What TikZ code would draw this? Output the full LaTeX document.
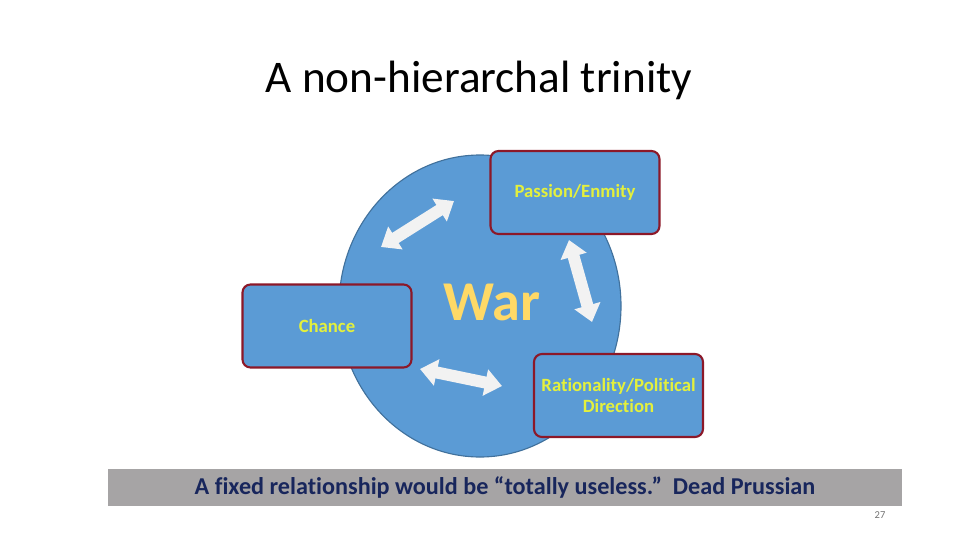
\documentclass[tikz,border=0pt]{standalone}
\usepackage{fontspec}
\setmainfont{Carlito}[Ligatures={NoCommon}]
\usetikzlibrary{arrows.meta}
\definecolor{trblue}{RGB}{91,155,213}
\definecolor{trrim}{RGB}{65,113,156}
\definecolor{trred}{RGB}{140,24,40}
\definecolor{tryel}{RGB}{228,240,60}
\definecolor{trgold}{RGB}{255,217,102}
\definecolor{trbar}{RGB}{166,164,165}
\definecolor{trnavy}{RGB}{24,38,92}
\definecolor{trarrow}{RGB}{242,242,242}

\begin{document}
\begin{tikzpicture}[
    x=0.025cm, y=-0.025cm,
    box/.style={rectangle, rounded corners=8*0.025cm, draw=trred, line width=1.5pt, fill=trblue,
      minimum width=169*0.025cm, minimum height=83*0.025cm, inner sep=0pt, align=center,
      text=tryel, font=\bfseries\fontsize{13.3}{14.5}\selectfont},
    link/.style={draw=trarrow, line width=12*0.025cm,
      {Triangle[width=26*0.025cm,length=17*0.025cm]}-{Triangle[width=26*0.025cm,length=17*0.025cm]}},
    tag/.style={font=\fontsize{32.2}{38}\selectfont},
  ]
  \useasboundingbox (0,0) rectangle (960,540);

  %% ================= title =================
  \node[tag] (title) at (479,80) {A non-hierarchal trinity};

  %% ================= the circle of war =================
  \draw[trrim, fill=trblue, line width=0.8pt] (480,306) ellipse[x radius=141, y radius=151];
  \node[font=\bfseries\fontsize{40}{44}\selectfont, text=trgold, draw=none] (war) at (492,302) {War};

  %% ================= the three boxes =================
  \node[box] (passion) at (575,192.5) {Passion/Enmity};
  \node[box] (chance)  at (327,326)   {Chance};
  \node[box] (reason)  at (618.5,395.5) {Rationality/Political\\Direction};

  % the two-way arrows between them
  \coordinate (ca) at (381,247);  \coordinate (pa) at (454,201);
  \coordinate (pb) at (569,240);  \coordinate (rb) at (592,322);
  \coordinate (rc) at (502,386);  \coordinate (cc) at (420,369);
  \draw[link] (ca) -- (pa);
  \draw[link] (pb) -- (rb);
  \draw[link] (cc) -- (rc);

  %% ================= the quote bar =================
  \node[rectangle, fill=trbar, minimum width=794*0.025cm, minimum height=37*0.025cm, inner sep=0pt,
    text=trnavy, font=\bfseries\fontsize{17.2}{20}\selectfont] (quote) at (505,487.5)
    {A fixed relationship would be “totally useless.”\ \ Dead Prussian};

  \node[text=black!55, font=\fontsize{7.5}{9}\selectfont] (page) at (880,515) {27};
\end{tikzpicture}
\end{document}
